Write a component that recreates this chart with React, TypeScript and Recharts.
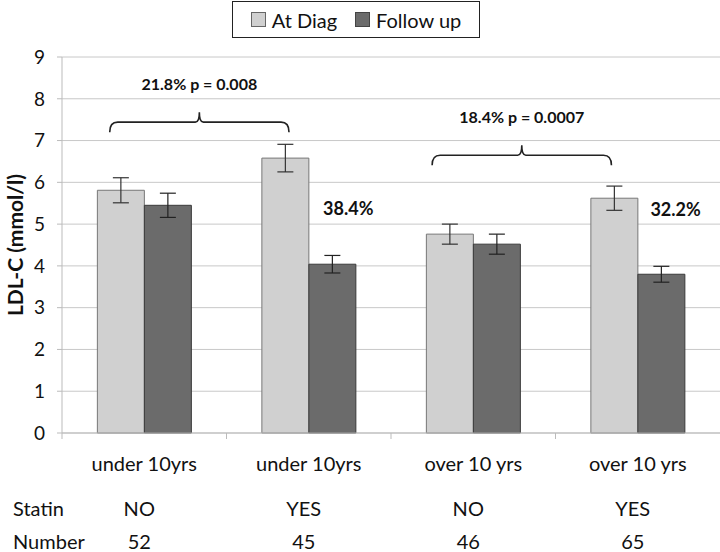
import React from 'react'
import {
  BarChart,
  Bar,
  XAxis,
  YAxis,
  CartesianGrid,
  ErrorBar,
  ReferenceLine,
  ReferenceDot,
  Label,
} from 'recharts'

// groups along the x axis
const groups = ['under 10yrs', 'under 10yrs', 'over 10 yrs', 'over 10 yrs']
const statin = ['NO', 'YES', 'NO', 'YES']
const numbers = [52, 45, 46, 65]

// LDL-C means (mmol/l) and error bars
const atDiag = [5.81, 6.58, 4.76, 5.62]
const atDiagErr = [0.3, 0.33, 0.24, 0.29]
const followUp = [5.45, 4.04, 4.52, 3.8]
const followUpErr = [0.29, 0.21, 0.24, 0.19]

const yTicks = [0, 1, 2, 3, 4, 5, 6, 7, 8, 9]

// brace annotations, in category units (0 = first group centre)
const braceFrom = [-0.21, 1.75]
const braceTo = [0.88, 2.84]
const braceY = [7.44, 6.65]
const braceText = ['21.8% p = 0.008', '18.4% p = 0.0007']

// % drop labels
const dropX = [1.24, 3.23]
const dropY = [5.38, 5.36]
const dropText = ['38.4%', '32.2%']

const FONT = 'Lato, "Open Sans", sans-serif'
const LIGHT = '#d0d0d0'
const DARK = '#6b6b6b'

const data = groups.map((g, i) => ({
  idx: i,
  group: g,
  atDiag: atDiag[i],
  atDiagErr: atDiagErr[i],
  followUp: followUp[i],
  followUpErr: followUpErr[i],
}))

function CategoryTick(props: any) {
  const { x, y, payload, index } = props
  const half = payload && payload.offset ? payload.offset : 82
  const i = payload.value as number
  return (
    <g>
      <line x1={x - half} y1={y} x2={x - half} y2={y + 6} stroke="#bbb" />
      <text x={x} y={y + 30} textAnchor="middle" dominantBaseline="central"
        fontSize={20} fill="#111" fontFamily={FONT}>
        {groups[i]}
      </text>
      <text x={x - 5} y={y + 75} textAnchor="middle" dominantBaseline="central"
        fontSize={20} fill="#111" fontFamily={FONT}>
        {statin[i]}
      </text>
      <text x={x - 5} y={y + 108} textAnchor="middle" dominantBaseline="central"
        fontSize={20} fill="#111" fontFamily={FONT}>
        {numbers[i]}
      </text>
      {index === 0 && (
        <g fontSize={20} fill="#111" fontFamily={FONT}>
          <text x={13} y={y + 75} dominantBaseline="central">Statin</text>
          <text x={13} y={y + 108} dominantBaseline="central">Number</text>
        </g>
      )}
    </g>
  )
}

function braceShape(text: string) {
  return (p: any) => {
    const { x1, y1, x2 } = p
    const mid = (x1 + x2) / 2
    const d = `M${x1},${y1 + 10} Q${x1},${y1} ${x1 + 8},${y1} L${mid - 4},${y1} Q${mid},${y1} ${mid},${y1 - 10} Q${mid},${y1} ${mid + 4},${y1} L${x2 - 8},${y1} Q${x2},${y1} ${x2},${y1 + 10}`
    return (
      <g>
        <path d={d} fill="none" stroke="#222" strokeWidth={1.6} />
        <text x={mid} y={y1 - 39} textAnchor="middle" dominantBaseline="central"
          fontSize={16} fontWeight="bold" fill="#111" fontFamily={FONT}>
          {text}
        </text>
      </g>
    )
  }
}

function dropShape(text: string) {
  return (p: any) => (
    <text x={p.cx} y={p.cy} textAnchor="middle" dominantBaseline="central"
      fontSize={18} fontWeight="bold" fill="#111" fontFamily={FONT}>
      {text}
    </text>
  )
}

export default function App() {
  return (
    <div style={{ position: 'absolute', left: 0, top: 0, width: 720, height: 552, background: '#fff', fontFamily: FONT }}>
      {/* legend box */}
      <div style={{
        position: 'absolute', left: 232, top: 1, width: 248, height: 37,
        border: '1px solid #222', boxSizing: 'border-box',
        display: 'flex', alignItems: 'center', justifyContent: 'center', gap: 18,
        fontSize: 20, color: '#111', background: '#fff',
      }}>
        <span style={{ display: 'flex', alignItems: 'center', gap: 6 }}>
          <span style={{ width: 13, height: 13, background: LIGHT, border: '1px solid #666' }} />
          At Diag
        </span>
        <span style={{ display: 'flex', alignItems: 'center', gap: 6 }}>
          <span style={{ width: 13, height: 13, background: DARK, border: '1px solid #444' }} />
          Follow up
        </span>
      </div>

      <BarChart
        width={720}
        height={552}
        data={data}
        margin={{ top: 57, right: 0, left: 0, bottom: 89 }}
        barCategoryGap="21.5%"
        barGap={0}
      >
        <CartesianGrid vertical={false} stroke="#c8c8c8" />
        <XAxis
          dataKey="idx"
          type="category"
          stroke="#bbb"
          tickLine={false}
          tickSize={0}
          tickMargin={0}
          tick={<CategoryTick />}
          interval={0}
          height={30}
        />
        <XAxis
          xAxisId="n"
          dataKey="idx"
          type="number"
          domain={[-0.5, 3.5]}
          allowDataOverflow
          hide
        />
        <YAxis
          width={62}
          domain={[0, 9]}
          ticks={yTicks}
          interval={0}
          stroke="#bbb"
          tickSize={5}
          tickMargin={12}
          tick={{ fontSize: 19, fill: '#111', fontFamily: FONT }}
        >
          <Label
            content={(p: any) => {
              const vb = p.viewBox
              const cy = vb.y + vb.height / 2
              return (
                <text x={14} y={cy} transform={`rotate(-90 14 ${cy})`} textAnchor="middle"
                  dominantBaseline="central" fontSize={21} fontWeight="bold" fill="#111" fontFamily={FONT}>
                  LDL-C (mmol/l)
                </text>
              )
            }}
          />
        </YAxis>
        <Bar dataKey="atDiag" fill={LIGHT} stroke="#777" isAnimationActive={false}>
          <ErrorBar dataKey="atDiagErr" width={8} stroke="#333" strokeWidth={1.2} />
        </Bar>
        <Bar dataKey="followUp" fill={DARK} stroke="#3a3a3a" isAnimationActive={false}>
          <ErrorBar dataKey="followUpErr" width={8} stroke="#222" strokeWidth={1.2} />
        </Bar>
        {braceText.map((t, i) => (
          <ReferenceLine
            key={t}
            xAxisId="n"
            segment={[{ x: braceFrom[i], y: braceY[i] }, { x: braceTo[i], y: braceY[i] }]}
            shape={braceShape(t)}
            ifOverflow="visible"
          />
        ))}
        {dropText.map((t, i) => (
          <ReferenceDot
            key={t}
            xAxisId="n"
            x={dropX[i]}
            y={dropY[i]}
            shape={dropShape(t)}
            ifOverflow="visible"
          />
        ))}
      </BarChart>
    </div>
  )
}
